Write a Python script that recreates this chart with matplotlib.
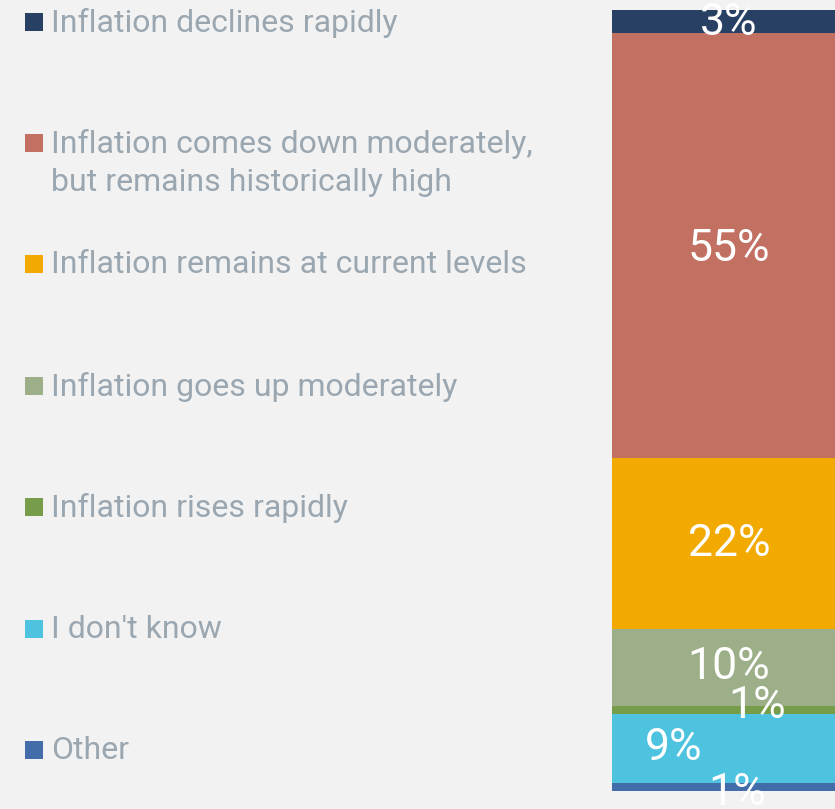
import matplotlib
matplotlib.use("Agg")
import matplotlib.pyplot as plt
from matplotlib.patches import Rectangle

plt.rcParams['font.family'] = ['Roboto', 'DejaVu Sans']

# data, bottom of the stack first
categories = ['Other', "I don't know", 'Inflation rises rapidly',
              'Inflation goes up moderately', 'Inflation remains at current levels',
              'Inflation comes down moderately,\nbut remains historically high',
              'Inflation declines rapidly']
values = [1, 9, 1, 10, 22, 55, 3]
colors = ['#426da9', '#4dc3df', '#789d4a', '#9caf88', '#f2a900', '#c27062', '#284063']
# label nudges (points) for the thin slices
nudges = [(6, -4), (-40, 0), (20, 3), (0, 0), (0, 0), (0, -2), (0, -1)]

W, H = 835, 809
bg = '#f2f2f2'
fig = plt.figure(figsize=(W / 100, H / 100), dpi=100, facecolor=bg)

# legend drawn on a pixel-coordinate canvas
leg = fig.add_axes([0, 0, 1, 1])
leg.set_xlim(0, W)
leg.set_ylim(H, 0)
leg.axis('off')

row_y = [750, 629, 507, 386, 264, 143, 22]
for cat, col, yy in zip(categories, colors, row_y):
    leg.add_patch(Rectangle((25, yy - 9), 18, 18, color=col, lw=0))
    leg.text(51, yy - 14, cat, color='#9aa6b0', fontsize=23, va='top', ha='left',
             linespacing=1.4)

# stacked bar
ax = fig.add_axes([612 / W, (H - 791) / H, 234 / W, 781 / H])
ax.set_xlim(-0.5, 0.5)
ax.set_ylim(0, sum(values))
ax.axis('off')
bottom = 0
for v, col, (dx, dy) in zip(values, colors, nudges):
    ax.bar(0, v, width=1, bottom=bottom, color=col, lw=0)
    ax.annotate(f'{v}%', (0, bottom + v / 2), xytext=(dx, dy), textcoords='offset points',
                ha='center', va='center', color='white', fontsize=32, clip_on=False)
    bottom += v

fig.savefig('out.png', dpi=100, facecolor=bg)
